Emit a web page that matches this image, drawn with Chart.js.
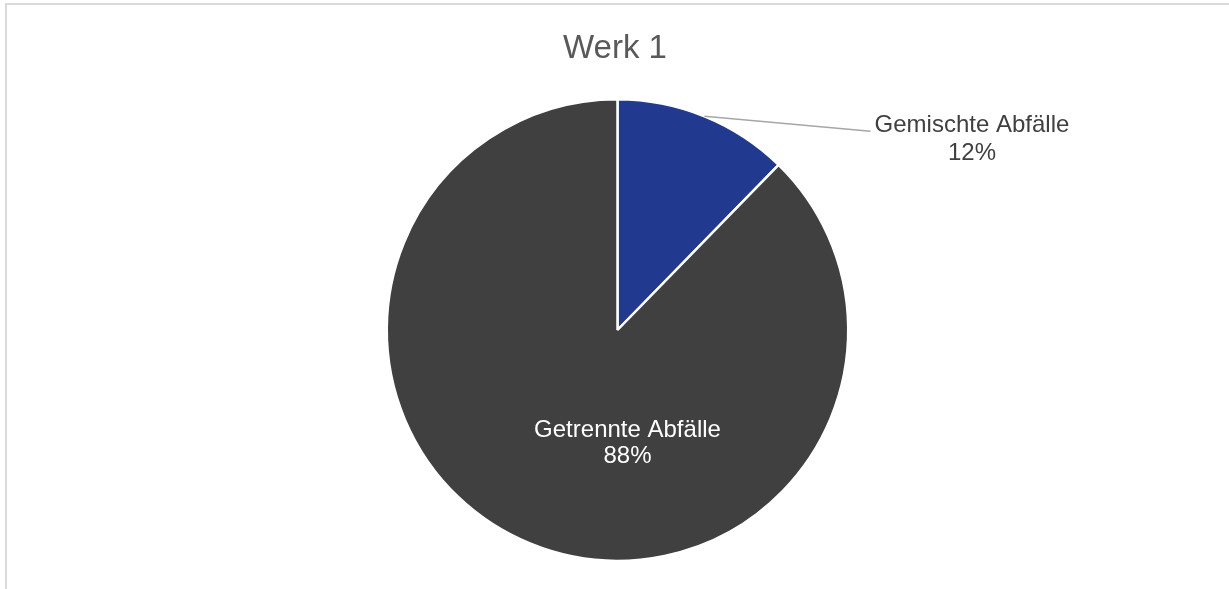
<!DOCTYPE html>
<html lang="de">
<head>
    <meta charset="UTF-8">
    <title>Werk 1</title>
    <script src="https://cdn.jsdelivr.net/npm/chart.js"></script>
    <style>
        body {
            margin: 0;
            background: #fff;
            font-family: "Liberation Sans", Arial, sans-serif;
        }
        .frame {
            position: absolute;
            left: 5px;
            top: 3px;
            width: 1300px;
            height: 700px;
            border: 2px solid #d9d9d9;
        }
        #wrap {
            position: absolute;
            left: 0;
            top: 0;
            width: 1229px;
            height: 589px;
        }
    </style>
</head>
<body>
<div class="frame"></div>
<div id="wrap"><canvas id="pieChart"></canvas></div>
<script>
    // data
    const categories = ['Gemischte Abfälle', 'Getrennte Abfälle'];
    const values = [12.3, 87.7];
    const colors = ['#213a8f', '#404040'];
    const chartTitle = 'Werk 1';

    const FONT = '"Liberation Sans", Arial, sans-serif';

    // draws title, leader line and slice labels like Excel does
    const excelLabels = {
        id: 'excelLabels',
        afterDatasetsDraw(chart) {
            const ctx = chart.ctx;
            const meta = chart.getDatasetMeta(0);
            const total = values.reduce((a, b) => a + b, 0);

            ctx.save();
            ctx.fillStyle = '#595959';
            ctx.font = '33px ' + FONT;
            ctx.textAlign = 'center';
            ctx.textBaseline = 'alphabetic';
            ctx.fillText(chartTitle, 615, 58);

            meta.data.forEach((arc, i) => {
                const p = arc.getProps(['x', 'y', 'startAngle', 'endAngle', 'outerRadius'], true);
                const mid = (p.startAngle + p.endAngle) / 2;
                const pct = Math.round(values[i] / total * 100) + '%';
                ctx.font = '24px ' + FONT;
                ctx.textAlign = 'center';
                if (i === 0) {
                    // outside label with leader line
                    const ax = p.x + Math.cos(mid) * p.outerRadius;
                    const ay = p.y + Math.sin(mid) * p.outerRadius;
                    const lx = ax + 166, ly = ay + 15;
                    ctx.strokeStyle = '#a6a6a6';
                    ctx.lineWidth = 1.5;
                    ctx.beginPath();
                    ctx.moveTo(ax, ay);
                    ctx.lineTo(lx, ly);
                    ctx.stroke();
                    ctx.fillStyle = '#404040';
                    ctx.fillText(categories[i], lx + 101.5, ly + 1);
                    ctx.fillText(pct, lx + 101.5, ly + 29);
                } else {
                    ctx.fillStyle = '#ffffff';
                    ctx.fillText(categories[i], p.x + 10, p.y + 107);
                    ctx.fillText(pct, p.x + 10, p.y + 133);
                }
            });
            ctx.restore();
        }
    };

    new Chart(document.getElementById('pieChart'), {
        type: 'pie',
        data: {
            labels: categories,
            datasets: [{
                data: values,
                backgroundColor: colors,
                borderColor: '#ffffff',
                borderWidth: 2.5
            }]
        },
        options: {
            responsive: true,
            maintainAspectRatio: false,
            animation: false,
            layout: {
                padding: { top: 98, bottom: 27, left: 6, right: 0 }
            },
            plugins: {
                legend: { display: false },
                title: { display: false },
                tooltip: { enabled: false }
            }
        },
        plugins: [excelLabels]
    });
</script>
</body>
</html>
